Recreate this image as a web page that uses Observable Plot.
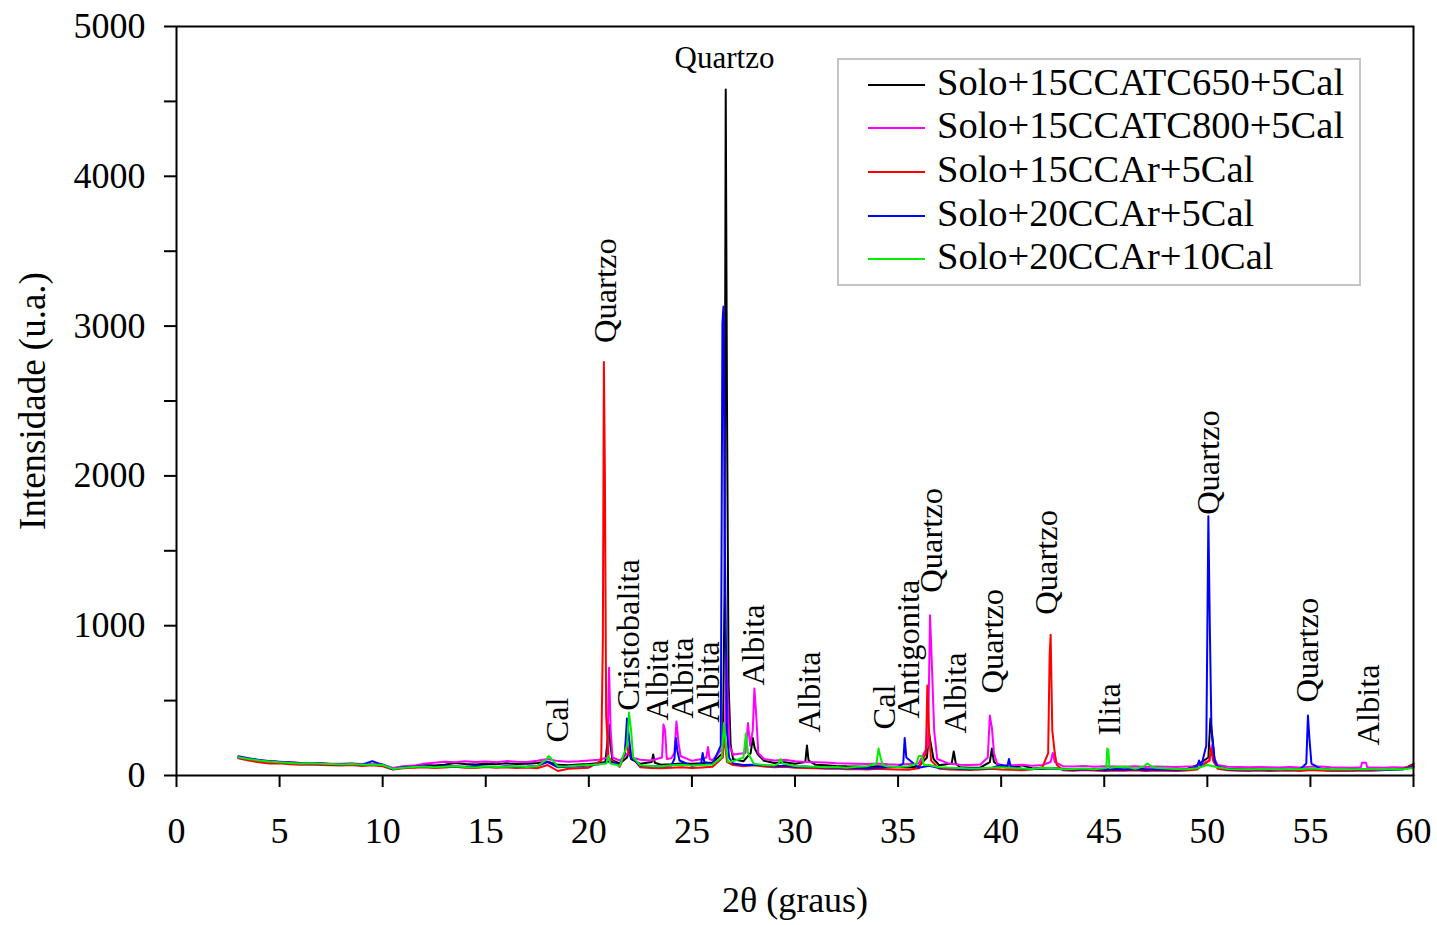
<!DOCTYPE html>
<html>
<head>
<meta charset="utf-8">
<script src="https://cdn.jsdelivr.net/npm/d3@7"></script>
<script src="https://cdn.jsdelivr.net/npm/@observablehq/plot@0.6"></script>
<style>
  body { margin: 0; background: #fff; }
  #wrap { position: relative; width: 1437px; height: 925px; }
  #legend { position: absolute; left: 837px; top: 58px; width: 520px; height: 224px;
    border: 2px solid #c4c4c4; background: #fff; box-sizing: content-box;
    font-family: "Liberation Serif", "Times New Roman", serif; font-size: 38.5px; padding-top: 0px; }
  .row { display: flex; align-items: center; height: 43.6px; white-space: nowrap; }
  .sw { width: 57px; height: 2px; margin-left: 29px; margin-right: 12px; position: relative; top: 3px; }
</style>
</head>
<body>
<div id="wrap"><div id="legend"></div></div>
<script>
// Series names and colours (legend order = drawing order)
const seriesNames = ["Solo+15CCATC650+5Cal", "Solo+15CCATC800+5Cal", "Solo+15CCAr+5Cal", "Solo+20CCAr+5Cal", "Solo+20CCAr+10Cal"];
const seriesColors = ["#000000", "#ff00ff", "#ff0000", "#0000ff", "#00ee00"];

// Baseline samples every 0.5° from 3° to 60° (115 values per series)
const blackBase = [118,108,100,94,90,86,84,80,82,77, 76,79,74,77,72,46,58,62,70,66, 72,84,76,73,79,75,81,77,79,83, 92,71,69,74,77,84,88,80,95,78, 80,72,75,80,78,82,86,120,108,95, 110,98,84,88,79,85,71,69,64,61, 60,57,62,59,57,54,60,75,68,60, 55,52,54,60,58,50,68,48,45,49, 45,42,44,43,41,44,40,45,42,40, 43,41,44,68,62,58,45,42,40,42, 40,38,40,42,44,40,38,40,38,40, 38,37,40,42,78];
const magentaBase = [120,112,102,96,92,88,84,82,80,78, 78,80,76,78,74,50,62,66,78,85, 92,88,95,90,94,88,96,92,90,98, 110,96,92,95,100,105,110,100,120,105, 100,110,115,105,98,110,102,130,140,120, 130,110,100,105,95,90,88,86,82,80, 78,76,80,75,72,76,80,100,90,78, 72,70,74,95,70,68,72,65,70,75, 62,60,64,58,62,60,58,62,56,60, 58,56,60,62,80,70,58,56,55,57, 55,53,56,54,58,60,55,54,52,56, 54,52,55,53,56];
const redBase = [115,100,88,80,82,75,72,74,70,68, 66,70,64,68,62,40,48,52,55,50, 54,58,52,50,56,52,55,50,54,48, 70,30,45,48,52,60,85,58,75,55, 50,48,52,55,50,54,58,100,70,62, 68,60,55,58,52,50,48,45,46,42, 44,40,45,42,40,38,48,60,45,40, 38,36,40,45,40,38,35,42,55,50, 35,32,36,33,30,34,32,35,30,33, 32,30,34,40,70,45,35,32,30,33, 30,32,34,30,36,33,30,32,30,34, 32,35,40,45,70];
const blueBase = [128,115,104,96,90,86,82,80,78,75, 74,78,72,96,70,42,55,58,62,58, 62,60,58,64,60,56,62,58,60,64, 90,55,58,62,66,75,95,70,85,65, 62,60,66,70,64,70,75,110,80,70, 72,68,62,65,58,60,55,52,50,48, 50,46,52,55,58,60,52,65,50,48, 45,42,46,48,70,60,45,42,50,48, 40,38,42,40,36,40,38,42,36,40, 38,36,40,55,90,60,40,38,36,40, 36,38,40,42,60,45,38,36,38,40, 38,36,40,42,60];
const greenBase = [122,110,100,94,88,84,80,82,78,76, 74,76,72,74,70,44,52,56,60,55, 58,62,56,54,60,56,58,62,56,64, 120,60,62,66,70,75,90,65,110,68, 64,62,68,72,66,70,74,140,95,80, 78,70,66,72,64,60,58,55,56,52, 58,62,90,60,56,62,80,70,55,52, 50,46,48,52,55,50,46,44,52,50, 42,44,46,42,40,55,60,45,42,52, 46,44,42,48,70,55,44,42,40,44, 42,40,44,42,46,44,40,42,40,44, 42,40,44,42,50];

// Peak profiles [2θ, intensity]
const blackPeaks = [[20.8,90],[20.9,220],[20.97,340],[21.05,200],[21.15,100],[21.85,120],[21.95,160],[22.05,110],[23.05,90],[23.12,140],[23.2,85],[26.5,150],[26.58,1200],[26.64,4580],[26.7,2500],[26.78,600],[26.88,200],[27.85,150],[27.95,250],[28.05,180],[28.2,140],[30.5,90],[30.58,200],[30.66,100],[36.4,120],[36.5,280],[36.6,200],[36.72,110],[37.6,80],[37.7,160],[37.8,80],[39.45,90],[39.55,180],[39.65,90],[50.05,120],[50.15,380],[50.25,250],[50.35,110]];
const magentaPeaks = [[20.9,120],[20.98,720],[21.06,300],[21.15,120],[21.9,150],[22.0,180],[22.1,120],[23.55,120],[23.62,340],[23.7,300],[23.78,110],[24.15,150],[24.25,360],[24.35,220],[24.45,130],[25.7,120],[25.78,190],[25.86,110],[26.6,200],[26.68,800],[26.74,500],[26.82,200],[27.6,150],[27.72,350],[27.82,200],[27.95,300],[28.03,580],[28.12,400],[28.22,150],[36.45,200],[36.55,1070],[36.65,700],[36.75,300],[36.9,110],[39.35,120],[39.45,400],[39.55,320],[39.65,150],[39.8,80],[42.4,90],[42.5,150],[42.6,90],[50.1,100],[50.2,200],[50.3,120],[57.45,55],[57.5,85],[57.7,85],[57.75,55]];
const redPeaks = [[20.6,100],[20.68,900],[20.73,2760],[20.78,2000],[20.84,400],[20.95,120],[21.75,150],[21.83,260],[21.92,150],[26.5,120],[26.56,300],[26.62,200],[26.7,90],[36.35,150],[36.42,600],[36.5,300],[36.6,100],[42.28,150],[42.35,800],[42.4,940],[42.48,300],[42.6,150],[42.7,70],[50.1,100],[50.18,180],[50.28,100]];
const bluePeaks = [[21.75,150],[21.85,380],[21.95,250],[22.05,120],[24.15,110],[24.22,250],[24.3,160],[24.4,100],[25.45,80],[25.52,150],[25.6,90],[26.4,200],[26.48,3020],[26.53,3130],[26.6,1500],[26.7,300],[26.8,120],[35.25,80],[35.32,250],[35.4,120],[40.3,60],[40.38,110],[40.46,60],[49.5,60],[49.6,100],[49.7,60],[49.95,200],[50.05,1730],[50.12,1000],[50.2,300],[50.35,100],[54.8,80],[54.88,400],[54.95,250],[55.05,80]];
const greenPeaks = [[17.9,100],[18.05,130],[18.2,110],[20.85,80],[20.95,130],[21.05,80],[21.85,200],[21.95,420],[22.05,300],[22.15,120],[26.45,120],[26.55,350],[26.65,200],[26.75,90],[27.5,120],[27.62,280],[27.72,150],[29.2,80],[29.3,110],[29.4,80],[33.95,80],[34.05,180],[34.15,120],[34.25,70],[35.9,80],[36.0,130],[36.15,130],[36.25,70],[45.1,50],[45.15,180],[45.2,170],[45.25,50],[46.9,60],[47.1,80],[47.3,60]];

// Phase annotations
const annText = ["Cal","Quartzo","Cristobalita","Albita","Albita","Albita","Albita","Albita","Cal","Antigonita","Quartzo","Albita","Quartzo","Quartzo","Ilita","Quartzo","Quartzo","Albita"];
const annX = [18.48,20.81,21.92,23.33,24.54,25.80,27.99,30.70,34.34,35.50,36.62,37.78,39.58,42.20,45.25,50.06,54.86,57.82];
const annY = [220,2887,433,367,380,353,600,287,307,380,1220,280,547,1073,267,1740,487,200];
const topLabel = ["Quartzo"], topLabelX = [26.58], topLabelY = [4787];

const xTicks = [0,5,10,15,20,25,30,35,40,45,50,55,60];
const yTicks = [0,1000,2000,3000,4000,5000];
const yMinorTicks = [500,1500,2500,3500,4500];

const grid = d3.range(3, 60.001, 0.5);
const bases = [blackBase, magentaBase, redBase, blueBase, greenBase];
const peaks = [blackPeaks, magentaPeaks, redPeaks, bluePeaks, greenPeaks];

const rowsFor = (k) => {
  const pk = peaks[k].map(([x, y]) => ({x, y}));
  const bs = grid.map((x, i) => ({x, y: bases[k][i]}))
    .filter(d => !pk.some(p => Math.abs(p.x - d.x) < 0.12));
  return bs.concat(pk).sort((a, b) => a.x - b.x);
};

const font = "Liberation Serif";
const ann = annText.map((t, i) => ({t, x: annX[i], y: annY[i]}));

const chart = Plot.plot({
  width: 1437, height: 925,
  marginLeft: 176, marginRight: 24, marginTop: 26, marginBottom: 150,
  x: {domain: [0, 60]},
  y: {domain: [0, 5000]},
  style: {fontFamily: font, background: "white", color: "black"},
  marks: [
    ...seriesNames.map((n, k) => Plot.line(rowsFor(k), {x: "x", y: "y", stroke: seriesColors[k], strokeWidth: 2})),
    Plot.frame({strokeWidth: 2}),
    Plot.axisX({ticks: xTicks, tickSize: 12, tickPadding: 30, fontSize: 36, strokeWidth: 2, label: null}),
    Plot.axisY({ticks: yMinorTicks, tickSize: 12, tickFormat: () => "", strokeWidth: 2, label: null}),
    Plot.axisY({ticks: yTicks, tickSize: 12, tickPadding: 19, fontSize: 36, strokeWidth: 2, tickFormat: d => String(d), label: null}),
    Plot.text(ann, {x: "x", y: "y", text: "t", rotate: -90, textAnchor: "start", fontSize: 32.5, fill: "black"}),
    Plot.text(topLabel, {x: topLabelX, y: topLabelY, text: d => d, fontSize: 31, fill: "black"}),
    Plot.text(["Intensidade (u.a.)"], {frameAnchor: "left", dx: -143, rotate: -90, textAnchor: "middle", lineAnchor: "middle", fontSize: 37, fill: "black"}),
    Plot.text(["2θ (graus)"], {frameAnchor: "bottom", dy: 125, textAnchor: "middle", lineAnchor: "middle", fontSize: 36, fill: "black"})
  ]
});
document.getElementById("wrap").prepend(chart);

const legend = document.getElementById("legend");
seriesNames.forEach((n, k) => {
  const row = document.createElement("div");
  row.className = "row";
  const sw = document.createElement("span");
  sw.className = "sw";
  sw.style.background = seriesColors[k];
  const tx = document.createElement("span");
  tx.textContent = n;
  row.append(sw, tx);
  legend.append(row);
});
</script>
</body>
</html>
